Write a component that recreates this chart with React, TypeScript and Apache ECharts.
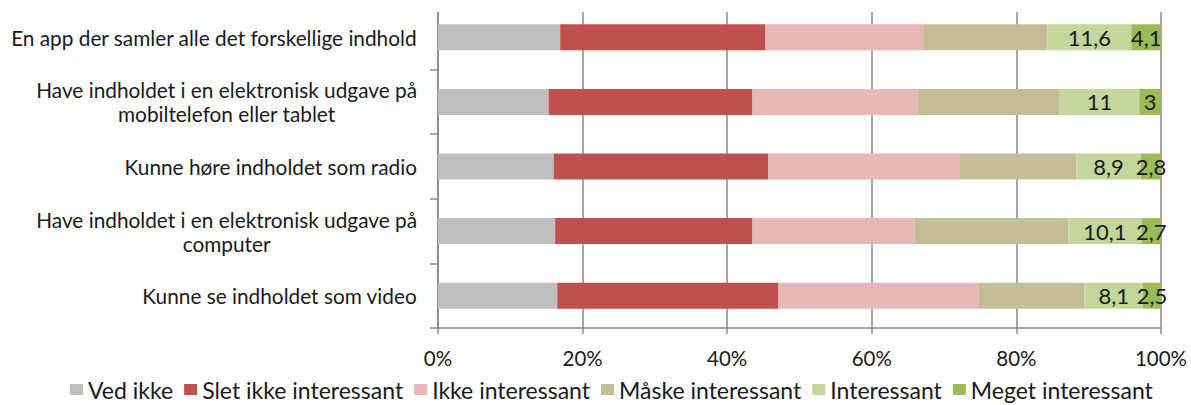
import React, { useEffect, useRef } from "react";
import * as echarts from "echarts";

const categories = [
  "En app der samler alle det forskellige indhold",
  "Have indholdet i en elektronisk udgave på\nmobiltelefon eller tablet",
  "Kunne høre indholdet som radio",
  "Have indholdet i en elektronisk udgave på\ncomputer",
  "Kunne se indholdet som video",
];

const seriesNames = [
  "Ved ikke",
  "Slet ikke interessant",
  "Ikke interessant",
  "Måske interessant",
  "Interessant",
  "Meget interessant",
];

const vedIkke = [16.9, 15.3, 16.0, 16.2, 16.5];
const sletIkke = [28.4, 28.2, 29.7, 27.3, 30.6];
const ikkeInteressant = [21.8, 22.9, 26.5, 22.4, 27.7];
const maaskeInteressant = [17.2, 19.6, 16.1, 21.3, 14.6];
const interessant = [11.6, 11, 8.9, 10.1, 8.1];
const megetInteressant = [4.1, 3, 2.8, 2.7, 2.5];

const xTicks = [0, 20, 40, 60, 80, 100];

const colors = ["#bfbfbf", "#c0504d", "#e6b9b8", "#c4bd97", "#c3d69b", "#9bbb59"];
const FONT = "Lato";
const TEXT = "#1a1a1a";

export default function App() {
  const ref = useRef<HTMLDivElement>(null);
  useEffect(() => {
    if (!ref.current) return;
    const chart = echarts.init(ref.current, null, { renderer: "svg" });
    const values = [vedIkke, sletIkke, ikkeInteressant, maaskeInteressant, interessant, megetInteressant];
    const series = values.map((data, i) => ({
      name: seriesNames[i],
      type: "bar",
      stack: "total",
      barWidth: 26,
      data,
      itemStyle: { color: colors[i] },
      label: {
        show: i >= 4,
        position: "inside",
        color: TEXT,
        fontFamily: FONT,
        fontSize: 22,
        formatter: (p: any) => String(p.value).replace(".", ","),
      },
    }));
    chart.setOption({
      animation: false,
      textStyle: { fontFamily: FONT },
      grid: { left: 438, right: 30, top: 5, bottom: 77 },
      xAxis: {
        type: "value",
        min: xTicks[0],
        max: xTicks[xTicks.length - 1],
        interval: 20,
        axisLine: { show: true, lineStyle: { color: "#8a8a8a", width: 1.5 } },
        axisTick: { show: true, length: 6, lineStyle: { color: "#8a8a8a", width: 1.5 } },
        splitLine: { show: true, lineStyle: { color: "#8a8a8a", width: 1.5 } },
        axisLabel: {
          formatter: "{value}%",
          color: TEXT,
          fontFamily: FONT,
          fontSize: 20.5,
          margin: 19,
        },
      },
      yAxis: {
        type: "category",
        inverse: true,
        data: categories,
        axisLine: { show: true, lineStyle: { color: "#8a8a8a", width: 1.5 } },
        axisTick: { show: true, length: 8, lineStyle: { color: "#8a8a8a", width: 1.5 } },
        axisLabel: {
          margin: 21,
          color: TEXT,
          fontFamily: FONT,
          fontSize: 20.8,
          lineHeight: 24,
          formatter: (v: string) => v.split("\n").map((l) => `{c|${l}}`).join("\n"),
          rich: {
            c: { align: "center", fontFamily: FONT, fontSize: 20.8, lineHeight: 24, color: TEXT },
          },
        },
      },
      legend: {
        data: seriesNames,
        left: 65,
        top: 372,
        icon: "rect",
        itemWidth: 13,
        itemHeight: 11,
        itemGap: 11,
        textStyle: { fontFamily: FONT, fontSize: 23, lineHeight: 25, color: TEXT },
      },
      graphic: [
        {
          type: "rect",
          z: 100,
          silent: true,
          shape: { x: 425, y: 0, width: 750, height: 12 },
          style: { fill: "#ffffff" },
        },
      ],
      series,
    });
    return () => chart.dispose();
  }, []);
  return (
    <div
      ref={ref}
      style={{ position: "fixed", left: 0, top: 0, width: 1191, height: 405, background: "#fff" }}
    />
  );
}
